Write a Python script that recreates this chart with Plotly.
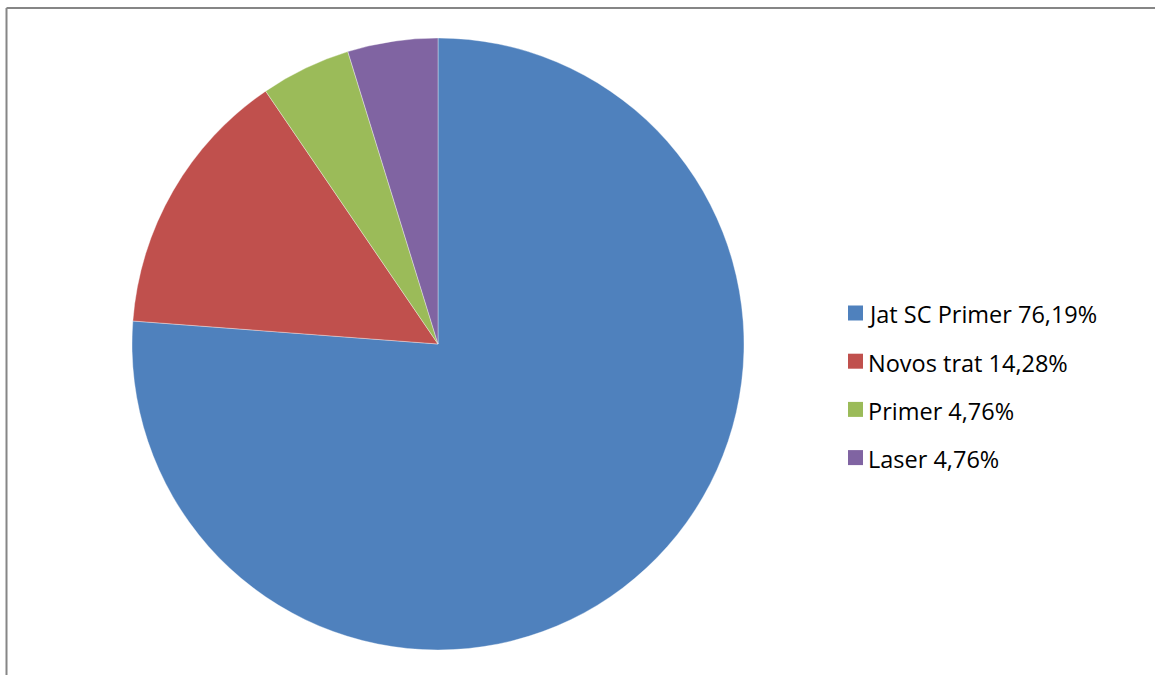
import plotly.graph_objects as go

labels = ["Jat SC Primer 76,19%", "Novos trat 14,28%", "Primer 4,76%", "Laser 4,76%"]
values = [76.19, 14.28, 4.76, 4.76]
colors = ["#4F81BD", "#C0504D", "#9BBB59", "#8064A2"]

W, H = 1155, 675

fig = go.Figure(go.Pie(
    labels=labels, values=values, sort=False, direction="clockwise", rotation=0,
    marker=dict(colors=colors, line=dict(color="rgba(255,255,255,0.6)", width=0.6)),
    textinfo="none", hoverinfo="label+percent", showlegend=False,
    domain=dict(x=[132 / W, 744 / W], y=[(H - 650) / H, (H - 38) / H]),
))

# custom legend (matching the wide spacing of the original)
leg_x0, leg_y0, leg_dy, box = 848, 313, 48.2, 15
shapes = [
    dict(type="line", xref="paper", yref="paper", x0=6.5 / W, x1=1.01, y0=1 - 8 / H, y1=1 - 8 / H,
         line=dict(color="#868686", width=2)),
    dict(type="line", xref="paper", yref="paper", x0=6.5 / W, x1=6.5 / W, y0=-0.01, y1=1 - 8 / H,
         line=dict(color="#868686", width=2)),
]
annotations = []
for i, (lab, col) in enumerate(zip(labels, colors)):
    yc = leg_y0 + i * leg_dy
    shapes.append(dict(type="rect", xref="paper", yref="paper",
                       x0=leg_x0 / W, x1=(leg_x0 + box) / W,
                       y0=1 - (yc + box / 2) / H, y1=1 - (yc - box / 2) / H,
                       fillcolor=col, line=dict(width=0)))
    annotations.append(dict(text=lab, xref="paper", yref="paper", x=(leg_x0 + box + 3) / W,
                            y=1 - (yc + 1.5) / H, xanchor="left", yanchor="middle", showarrow=False,
                            font=dict(family="Open Sans", size=23.5, color="#000000")))

fig.update_layout(
    width=W, height=H, margin=dict(l=0, r=0, t=0, b=0),
    paper_bgcolor="white", plot_bgcolor="white",
    shapes=shapes, annotations=annotations,
)
fig.write_html("out.html")
